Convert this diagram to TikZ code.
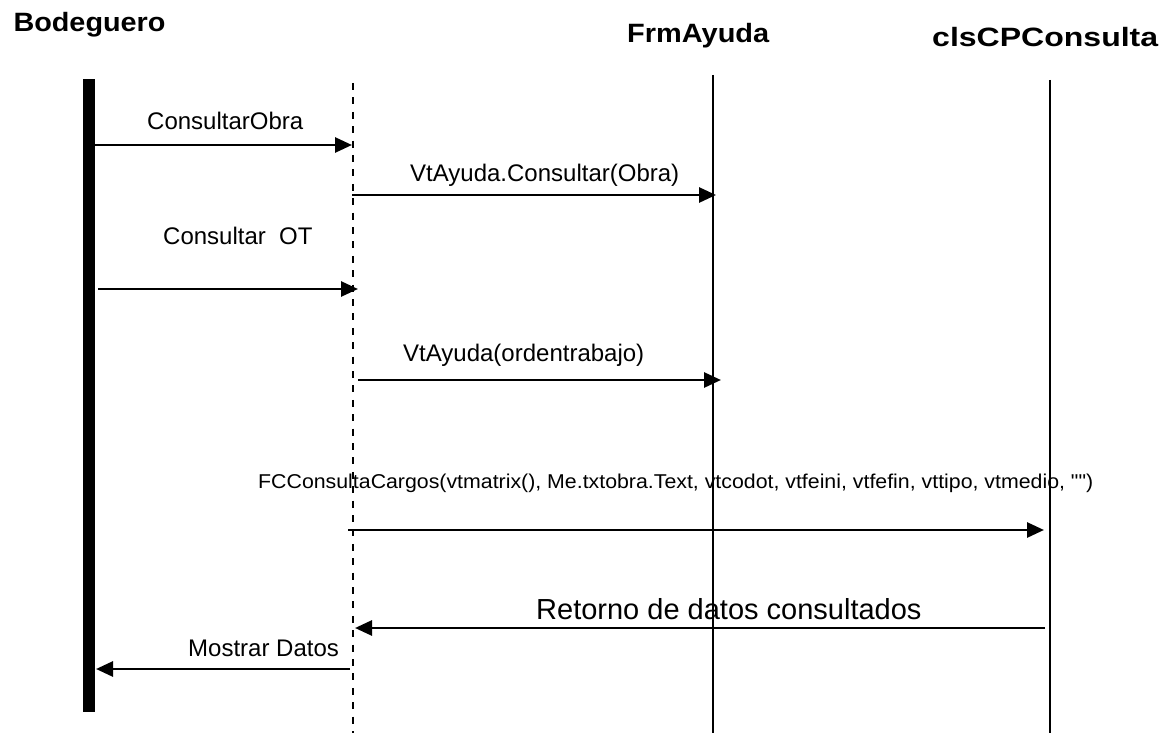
\documentclass[tikz,border=0pt]{standalone}
\usepackage{fontspec}
\setmainfont{Liberation Sans}[Ligatures=TeXOff]
\usetikzlibrary{arrows.meta}
\tikzset{
  lbl/.style={anchor=base west, inner sep=0pt, font=\fontsize{24}{28}\selectfont},
  ttl/.style={anchor=base west, inner sep=0pt, font=\fontsize{26.5}{30}\selectfont\bfseries},
  msg/.style={line width=2.8pt, -{Triangle[length=17pt,width=15pt]}},
  life/.style={line width=2pt},
  dlife/.style={line width=2pt, dash pattern=on 7pt off 7.4pt},
}
\begin{document}
\begin{tikzpicture}[x=1pt,y=-1pt]
\useasboundingbox (0,0) rectangle (1170,733);
% titles
\node[ttl] (tBod) at (13.3,31.7) {\resizebox{152pt}{\height}{Bodeguero}};
\node[ttl] (tFrm) at (627,42.5) {\resizebox{142pt}{\height}{FrmAyuda}};
\node[ttl] (tCls) at (932,46.7) {\resizebox{226pt}{\height}{clsCPConsulta}};
% lifelines
\node[draw=none, fill=black, minimum width=12pt, minimum height=633pt, inner sep=0pt, anchor=north west] (bar) at (83,79) {};
\coordinate (dTop) at (353,83);
\coordinate (dBot) at (353,733);
\coordinate (fTop) at (713,75);
\coordinate (fBot) at (713,733);
\coordinate (cTop) at (1050,80);
\coordinate (cBot) at (1050,733);
\draw[dlife] (dTop) -- (dBot);
\draw[life] (fTop) -- (fBot);
\draw[life] (cTop) -- (cBot);
% message end points
\coordinate (m1a) at (95,145);   \coordinate (m1b) at (352,145);
\coordinate (m2a) at (352,195);  \coordinate (m2b) at (716,195);
\coordinate (m3a) at (98,289);   \coordinate (m3b) at (358,289);
\coordinate (m4a) at (358,380);  \coordinate (m4b) at (721,380);
\coordinate (m5a) at (348,530);  \coordinate (m5b) at (1044,530);
\coordinate (m6a) at (1045,628); \coordinate (m6b) at (355,628);
\coordinate (m7a) at (350,669);  \coordinate (m7b) at (96,669);
\draw[msg] (m1a) -- (m1b);
\draw[msg] (m2a) -- (m2b);
\draw[msg] (m3a) -- (m3b);
\draw[msg] (m4a) -- (m4b);
\draw[msg] (m5a) -- (m5b);
\draw[msg] (m6a) -- (m6b);
\draw[msg] (m7a) -- (m7b);
% labels
\node[lbl] (l1) at (147,130) {ConsultarObra};
\node[lbl] (l2) at (410,181.7) {VtAyuda.Consultar(Obra)};
\node[lbl] (l3) at (163,244) {Consultar\ \ OT};
\node[lbl] (l4) at (403,361.7) {VtAyuda(ordentrabajo)};
\node[lbl, font=\fontsize{20}{24}\selectfont] (l5) at (258,488) {\resizebox{835pt}{\height}{FCConsultaCargos(vtmatrix(), Me.txtobra.Text, vtcodot, vtfeini, vtfefin, vttipo, vtmedio, \char34\char34)}};
\node[lbl, font=\fontsize{29}{34}\selectfont] (l6) at (536,619) {Retorno de datos consultados};
\node[lbl] (l7) at (188,656.7) {Mostrar Datos};
\end{tikzpicture}
\end{document}
